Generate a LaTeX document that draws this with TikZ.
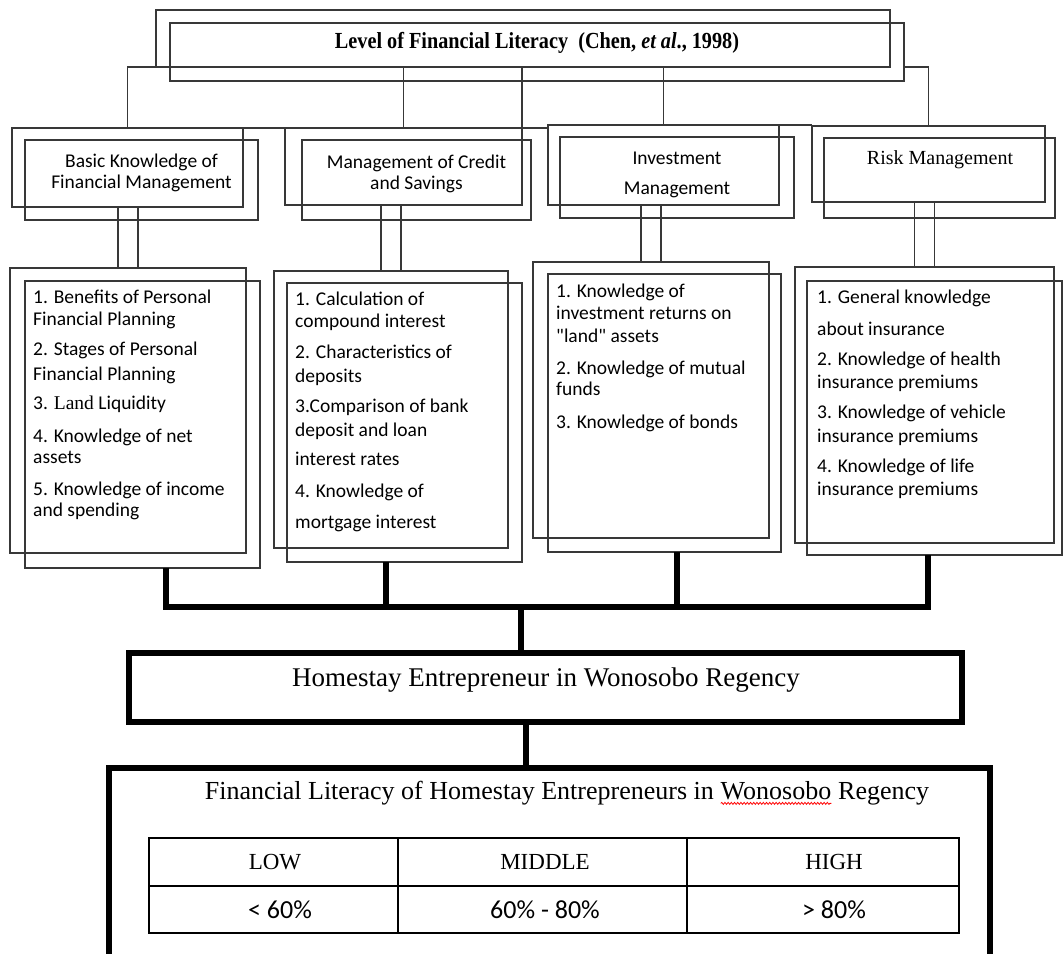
\documentclass[tikz,border=0pt]{standalone}
\usepackage{fontspec}
\setmainfont{Liberation Serif}
\newfontfamily\carl{Carlito}
\newfontfamily\condserif[FakeStretch=0.88]{Liberation Serif}
\usetikzlibrary{calc,decorations.pathmorphing}
\newcommand\redwave[1]{\tikz[baseline=(wv.base)]{\node[inner sep=0pt,outer sep=0pt](wv){#1};\draw[red,line width=0.8pt,decorate,decoration={snake,amplitude=1pt,segment length=3.2pt}]([yshift=-4pt]wv.base west)--([yshift=-4pt]wv.base east);}}
\newcommand\mkbox[6]{\node[#6,minimum width={(#4)-(#2)},minimum height={(#5)-(#3)}] (#1) at ({((#2)+(#4))/2},{((#3)+(#5))/2}) {};}
\tikzset{
 thinbox/.style={draw=black!78,line width=1.8pt,inner sep=0pt,outer sep=0pt},
 link/.style={draw=black!78,line width=1.8pt},
 bus/.style={draw=black,line width=6pt},
 heavy/.style={draw=black,line width=6pt,inner sep=0pt,outer sep=0pt},
 listtxt/.style={font=\carl\fontsize{19.5}{21.5}\selectfont,align=left,anchor=north west,inner sep=0pt},
 headtxt/.style={font=\carl\fontsize{19.5}{21}\selectfont,align=center,inner sep=0pt},
 serbig/.style={font=\fontsize{26}{30}\selectfont,inner sep=0pt},
 cellline/.style={draw=black,line width=1.8pt},
}
\begin{document}
\begin{tikzpicture}[x=1pt,y=-1pt]
\useasboundingbox (0,0) rectangle (1064,953);
\fill[white] (0,0) rectangle (1064,953);
\clip (0,0) rectangle (1064,953);
% title
\mkbox{tb}{156}{10}{890}{67}{thinbox}
\mkbox{tf}{170}{23}{904}{81}{thinbox}
\node[inner sep=0pt,font=\condserif\bfseries\fontsize{23}{23}\selectfont] (tt) at (537,43) {Level of Financial Literacy\ \ (Chen, \textit{et al}., 1998)};
% headers
\mkbox{hb1}{12}{128}{243}{207}{thinbox}
\mkbox{hf1}{25}{140}{258}{220}{thinbox}
\mkbox{hb2}{285}{128}{522}{205}{thinbox}
\mkbox{hf2}{302}{140}{531}{220}{thinbox}
\mkbox{hb3}{548}{125}{779}{205}{thinbox}
\mkbox{hf3}{560}{137}{794}{218}{thinbox}
\mkbox{hb4}{812}{126}{1045}{202}{thinbox}
\mkbox{hf4}{824}{138}{1055}{218}{thinbox}
\node[headtxt] (ht1) at (141.5,172.5) {Basic Knowledge of\\Financial Management};
\node[headtxt] (ht2) at (416.5,173.5) {Management of Credit\\and Savings};
\node[headtxt,font=\carl\fontsize{19.5}{30}\selectfont] (ht3) at (677,175) {Investment\\Management};
\node[inner sep=0pt,font=\fontsize{20}{24}\selectfont] (ht4) at (940,160) {Risk Management};
% lists
\mkbox{lb1}{10}{268}{246}{553}{thinbox}
\mkbox{lf1}{25}{281}{260}{568}{thinbox}
\mkbox{lb2}{274}{271}{508}{548}{thinbox}
\mkbox{lf2}{287}{283}{522}{562}{thinbox}
\mkbox{lb3}{533}{262}{769}{538}{thinbox}
\mkbox{lf3}{548}{274}{781}{552}{thinbox}
\mkbox{lb4}{795}{267}{1054}{543}{thinbox}
\mkbox{lf4}{807}{281}{1062}{555}{thinbox}
\node[listtxt] (lt1) at (33,290) {1. Benefits of Personal\\Financial Planning\\[9pt]2. Stages of Personal\\[3.5pt]Financial Planning\\[7.5pt]3. {\rmfamily Land} Liquidity\\[11pt]4. Knowledge of net\\assets\\[10pt]5. Knowledge of income\\and spending};
\node[listtxt] (lt2) at (295,292) {1. Calculation of\\compound interest\\[10pt]2. Characteristics of\\[2pt]deposits\\[8.5pt]3.Comparison of bank\\[3pt]deposit and loan\\[7.5pt]interest rates\\[10pt]4. Knowledge of\\[10pt]mortgage interest};
\node[listtxt] (lt3) at (556,284) {1. Knowledge of\\investment returns on\\[2pt]"land" assets\\[10pt]2. Knowledge of mutual\\funds\\[11pt]3. Knowledge of bonds};
\node[listtxt] (lt4) at (817,290) {1. General knowledge\\[10pt]about insurance\\[8.5pt]2. Knowledge of health\\[2pt]insurance premiums\\[8.5pt]3. Knowledge of vehicle\\[2.5pt]insurance premiums\\[8pt]4. Knowledge of life\\[2pt]insurance premiums};
% homestay + bottom
\mkbox{hs}{129}{653}{962}{722}{heavy}
\node[serbig,font=\fontsize{27}{30}\selectfont] (hst) at (546,680) {Homestay Entrepreneur in Wonosobo Regency};
\mkbox{fl}{109}{768}{990}{990}{heavy}
\node[serbig] (flt) at (567,793) {Financial Literacy of Homestay Entrepreneurs in \redwave{Wonosobo} Regency};
% table
\node[cellline,minimum width=249,minimum height=48,inner sep=0pt,outer sep=0pt] (c11) at (273.5,862) {};
\node[cellline,minimum width=289,minimum height=48,inner sep=0pt,outer sep=0pt] (c12) at (542.5,862) {};
\node[cellline,minimum width=272,minimum height=48,inner sep=0pt,outer sep=0pt] (c13) at (823,862) {};
\node[cellline,minimum width=249,minimum height=47,inner sep=0pt,outer sep=0pt] (c21) at (273.5,909.5) {};
\node[cellline,minimum width=289,minimum height=47,inner sep=0pt,outer sep=0pt] (c22) at (542.5,909.5) {};
\node[cellline,minimum width=272,minimum height=47,inner sep=0pt,outer sep=0pt] (c23) at (823,909.5) {};
\node[inner sep=0pt,font=\fontsize{23}{23}\selectfont] (x11) at (275,862) {LOW};
\node[inner sep=0pt,font=\fontsize{23}{23}\selectfont] (x12) at (545,862) {MIDDLE};
\node[inner sep=0pt,font=\fontsize{23}{23}\selectfont] (x13) at (834,862) {HIGH};
\node[inner sep=0pt,font=\carl\fontsize{26}{26}\selectfont] (x21) at (280,910) {< 60\%};
\node[inner sep=0pt,font=\carl\fontsize{26}{26}\selectfont] (x22) at (545,910) {60\% - 80\%};
\node[inner sep=0pt,font=\carl\fontsize{26}{26}\selectfont] (x23) at (834,910) {> 80\%};
% connectors from title
\draw[link] (tb.south west) -- (hb1.north |- tb.south) -- (hb1.north);
\draw[link] (tf.east |- tb.south) -| (hb4.north);
\draw[link] (hb2.north |- tb.south) -- (hb2.north);
\draw[link] (hb2.north east |- tb.south) -- ($(hb2.north east)+(0,5)$);
\draw[link] (hb3.north |- tb.south) -- (hb3.north);
\draw[link] (hb1.north east) -- (hb2.north west);
\draw[link] (hb2.north east) -- (hb3.north west |- hb2.north east);
\draw[link] (hb3.north east) -- (hb4.north west |- hb3.north east);
% double lines
\foreach \i in {1,2,3,4}{
 \draw[link] ($(lb\i.north |- hb\i.south)+(-10,0)$) -- ($(lb\i.north)+(-10,0)$);
 \draw[link] ($(lb\i.north |- hb\i.south)+(10,0)$) -- ($(lb\i.north)+(10,0)$);
}
% thick bus
\coordinate (j1) at (166,607);
\coordinate (j2) at (386,607);
\coordinate (j3) at (677,607);
\coordinate (j4) at (928,607);
\coordinate (jc) at (521,607);
\coordinate (k) at (526,740);
\draw[bus,line join=miter] (j1 |- lf1.south) -- (j1) -- (j4) -- (j4 |- lf4.south);
\draw[bus] (j2 |- lf2.south) -- (j2);
\draw[bus] (j3 |- lf3.south) -- (j3);
\draw[bus] (jc) -- (jc |- hs.north);
\draw[bus] (k |- hs.south) -- (k |- fl.north);
\end{tikzpicture}
\end{document}
